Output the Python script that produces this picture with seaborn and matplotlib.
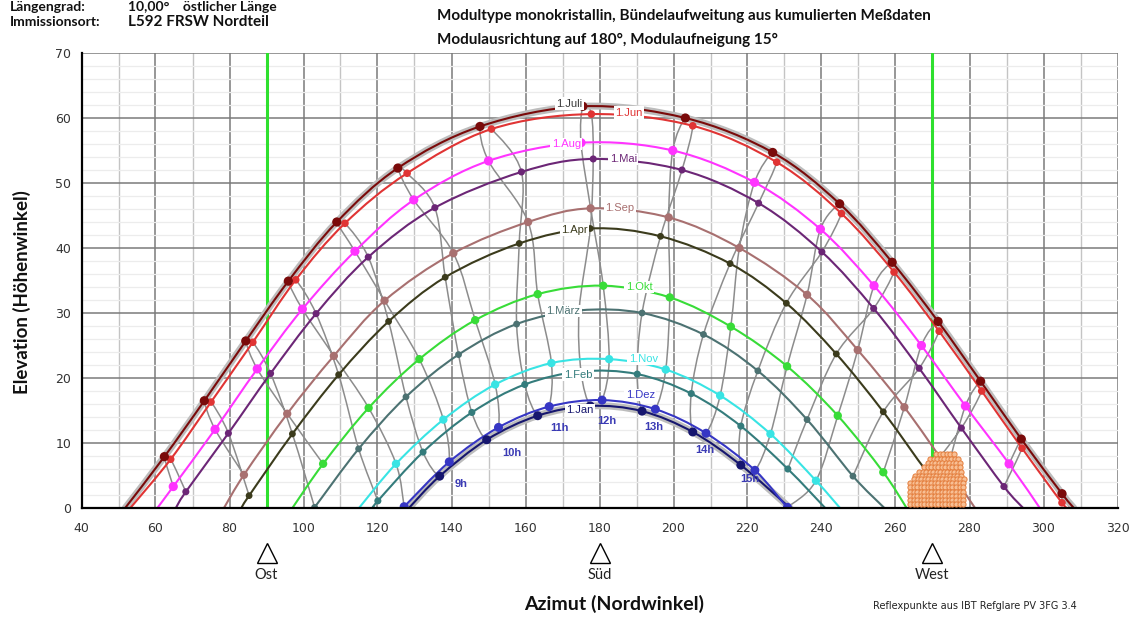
import numpy as np
import pandas as pd
import seaborn as sns
import matplotlib.pyplot as plt
import matplotlib.transforms as mtransforms
from matplotlib.path import Path
from matplotlib.patches import PathPatch

# Tageskurven (1. des Monats), Punkte = volle Stunden
months = ["1.Jan", "1.Feb", "1.März", "1.Apr", "1.Mai", "1.Jun",
          "1.Juli", "1.Aug", "1.Sep", "1.Okt", "1.Nov", "1.Dez"]

# Azimut bei Sonnenauf- und -untergang (Elevation 0)
rise_az = [128.5, 118.8, 102.6, 83.2, 65.5, 53.2, 51.8, 60.5, 78.5, 97.0, 115.0, 126.8]
set_az = [231.5, 241.0, 257.0, 276.8, 294.5, 306.8, 308.2, 299.0, 281.5, 263.0, 245.0, 232.8]

jan_h = [9, 10, 11, 12, 13, 14, 15]
jan_az = [136.8, 149.5, 163.3, 177.5, 191.5, 205.2, 218.2]
jan_el = [4.9, 10.5, 14.2, 15.7, 14.9, 11.7, 6.6]

feb_h = [8, 9, 10, 11, 12, 13, 14, 15, 16]
feb_az = [120.1, 132.3, 145.5, 159.8, 175.0, 190.2, 204.8, 218.2, 230.9]
feb_el = [1.1, 8.6, 14.7, 19.0, 21.0, 20.6, 17.6, 12.6, 6.0]

mar_h = [7, 8, 9, 10, 11, 12, 13, 14, 15, 16, 17]
mar_az = [103.0, 114.9, 127.7, 141.9, 157.6, 174.5, 191.5, 208.1, 222.8, 236.1, 248.5]
mar_el = [0.1, 9.1, 17.1, 23.6, 28.3, 30.4, 30.0, 26.7, 21.1, 13.6, 4.9]

apr_h = [6, 7, 8, 9, 10, 11, 12, 13, 14, 15, 16, 17, 18]
apr_az = [85.3, 97.0, 109.5, 123.0, 138.3, 158.3, 177.5, 196.5, 215.3, 230.5, 244.0, 256.7, 268.7]
apr_el = [1.9, 11.4, 20.5, 28.7, 35.5, 40.7, 43.0, 41.8, 37.6, 31.5, 23.7, 14.8, 5.4]

mai_h = [5, 6, 7, 8, 9, 10, 11, 12, 13, 14, 15, 16, 17, 18, 19]
mai_az = [68.2, 79.7, 91.1, 103.4, 117.5, 135.5, 158.9, 178.3, 202.3, 223.0, 240.1, 254.1, 266.4, 277.8, 289.3]
mai_el = [2.5, 11.5, 20.7, 29.9, 38.6, 46.2, 51.7, 53.7, 52.0, 46.9, 39.4, 30.7, 21.5, 12.3, 3.3]

jun_h = [5, 6, 7, 8, 9, 10, 11, 12, 13, 14, 15, 16, 17, 18, 19, 20]
jun_az = [64.1, 75.0, 86.3, 97.9, 111.2, 128.0, 150.8, 177.8, 205.2, 227.9, 245.4, 259.6, 271.8, 283.3, 294.2, 305.0]
jun_el = [7.5, 16.3, 25.5, 35.1, 43.8, 51.5, 58.3, 60.6, 58.8, 53.2, 45.3, 36.3, 27.2, 18.0, 9.2, 0.8]

jul_h = [5, 6, 7, 8, 9, 10, 11, 12, 13, 14, 15, 16, 17, 18, 19, 20]
jul_az = [62.4, 73.2, 84.4, 95.9, 109.0, 125.5, 147.7, 175.5, 203.2, 226.8, 244.9, 259.1, 271.5, 283.0, 294.0, 305.0]
jul_el = [7.9, 16.5, 25.7, 34.9, 44.0, 52.3, 58.7, 61.8, 60.0, 54.7, 46.8, 37.8, 28.7, 19.5, 10.6, 2.2]

aug_h = [5, 6, 7, 8, 9, 10, 11, 12, 13, 14, 15, 16, 17, 18, 19]
aug_az = [64.8, 76.1, 87.5, 99.7, 113.9, 129.8, 150.0, 175.0, 199.8, 221.9, 239.7, 254.2, 267.0, 278.9, 290.7]
aug_el = [3.3, 12.1, 21.4, 30.6, 39.5, 47.4, 53.4, 56.2, 55.0, 50.1, 42.9, 34.2, 25.0, 15.7, 6.8]

sep_h = [6, 7, 8, 9, 10, 11, 12, 13, 14, 15, 16, 17, 18]
sep_az = [83.9, 95.6, 108.2, 121.9, 140.5, 160.7, 177.6, 198.7, 217.8, 236.1, 249.8, 262.4, 274.1]
sep_el = [5.1, 14.5, 23.4, 31.9, 39.2, 44.0, 46.1, 44.7, 40.0, 32.8, 24.3, 15.5, 6.1]

okt_h = [7, 8, 9, 10, 11, 12, 13, 14, 15, 16, 17]
okt_az = [105.3, 117.6, 131.3, 146.4, 163.3, 181.0, 199.0, 215.5, 230.7, 244.4, 256.7]
okt_el = [6.8, 15.4, 22.9, 28.9, 32.9, 34.2, 32.4, 27.9, 21.8, 14.2, 5.5]

nov_h = [8, 9, 10, 11, 12, 13, 14, 15, 16]
nov_az = [125.0, 137.8, 151.8, 167.0, 182.6, 197.9, 212.6, 226.2, 238.5]
nov_el = [6.8, 13.6, 19.0, 22.3, 22.9, 21.3, 17.3, 11.4, 4.2]

dez_h = [8, 9, 10, 11, 12, 13, 14, 15, 16]
dez_az = [127.2, 139.4, 152.7, 166.4, 180.7, 195.1, 208.8, 222.0, 230.8]
dez_el = [0.2, 7.1, 12.4, 15.6, 16.6, 15.2, 11.5, 5.8, 0.1]

curve_h = [jan_h, feb_h, mar_h, apr_h, mai_h, jun_h, jul_h, aug_h, sep_h, okt_h, nov_h, dez_h]
curve_az = [jan_az, feb_az, mar_az, apr_az, mai_az, jun_az, jul_az, aug_az, sep_az, okt_az, nov_az, dez_az]
curve_el = [jan_el, feb_el, mar_el, apr_el, mai_el, jun_el, jul_el, aug_el, sep_el, okt_el, nov_el, dez_el]

# Beschriftung der Kurven (Azimut, Elevation)
label_az = [174.8, 174.2, 170.2, 173.2, 186.4, 188.0, 171.8, 171.0, 185.5, 190.7, 191.8, 191.0]
label_el = [15.1, 20.5, 30.3, 42.8, 53.7, 60.8, 62.2, 56.0, 46.2, 34.0, 22.9, 17.4]

hour_text = ["9h", "10h", "11h", "12h", "13h", "14h", "15h"]
hour_text_az = [142.7, 156.2, 169.1, 182.1, 194.7, 208.4, 220.6]
hour_text_el = [3.7, 8.5, 12.3, 13.4, 12.5, 8.9, 4.5]

# Reflexpunkte (Zeilen: Elevation, Azimut von/bis)
refl_el = [8.3, 7.6, 7.0, 6.3, 5.6, 5.0, 4.4, 3.8, 3.2, 2.5, 1.9, 1.2, 0.6]
refl_lo = [271.0, 269.4, 268.8, 267.8, 266.4, 265.3, 265.1, 264.0, 264.0, 264.0, 264.0, 264.0, 264.0]
refl_hi = [275.8, 277.2, 277.5, 278.0, 278.3, 278.5, 278.5, 278.8, 278.8, 278.8, 278.8, 278.8, 278.8]

line_colors = ["#16166e", "#347c7c", "#4c7272", "#3b3b1c", "#6c2676", "#e03434",
               "#7a0a0a", "#ff34ff", "#a87070", "#38dc38", "#38e4e4", "#3636c4"]
dot_sizes = [42, 26, 24, 24, 26, 30, 44, 44, 36, 36, 36, 42]


def smooth_path(xs, ys, closed=False):
    p = np.column_stack([xs, ys]).astype(float)
    n = len(p)
    if closed:
        ext = np.vstack([p[-1], p, p[0], p[1]])
        segs = n
    else:
        ext = np.vstack([p[0], p, p[-1]])
        segs = n - 1
    verts = [ext[1]]
    codes = [Path.MOVETO]
    for i in range(segs):
        p0, p1, p2, p3 = ext[i], ext[i + 1], ext[i + 2], ext[i + 3]
        verts += [p1 + (p2 - p0) / 6.0, p2 - (p3 - p1) / 6.0, p2]
        codes += [Path.CURVE4] * 3
    return Path(verts, codes)


sns.set_style("white")
plt.rcParams['font.family'] = ['DejaVu Sans']

fig = plt.figure(figsize=(11.36, 6.18), dpi=100)
ax = fig.add_axes([81.5 / 1136, 1 - 508 / 618, 1036 / 1136, 455 / 618])
ax.set_xlim(40, 320)
ax.set_ylim(0, 70)

# Gitter
ax.set_xticks(range(40, 321, 20))
ax.set_xticks(range(50, 320, 20), minor=True)
ax.set_yticks(range(0, 71, 10))
ax.set_yticks([v for v in range(2, 70, 2) if v % 10], minor=True)
ax.xaxis.grid(True, which='major', color='#7a7a7a', lw=1.1, zorder=0)
ax.yaxis.grid(True, which='major', color='#7a7a7a', lw=1.1, zorder=0)
ax.xaxis.grid(True, which='minor', color='#c4c4c4', lw=1.0, zorder=0)
ax.yaxis.grid(True, which='minor', color='#ececec', lw=0.9, zorder=0)
ax.set_axisbelow(True)
ax.tick_params(which='minor', length=0)
ax.tick_params(which='major', direction='out', length=4, width=1, color='#333333',
               labelsize=9, labelcolor='#333333')
ax.tick_params(axis='x', pad=6)
for s in ['top', 'right']:
    ax.spines[s].set_visible(False)
for s in ['left', 'bottom']:
    ax.spines[s].set_color('black')
    ax.spines[s].set_linewidth(1.6)
    ax.spines[s].set_zorder(6)

# Ost / West Linien
for a in [90, 270]:
    ax.axvline(a, color='#2ee02e', lw=2.2, zorder=1)

# Stundenlinien (gleiche Uhrzeit ueber das Jahr)
rows = []
for m, hs, azs, els in zip(months, curve_h, curve_az, curve_el):
    for h, a, e in zip(hs, azs, els):
        rows.append({'Monat': m, 'Stunde': h, 'az': a, 'el': e})
dots = pd.DataFrame(rows)
dots['mi'] = dots['Monat'].map({m: i for i, m in enumerate(months)})

for h in sorted(dots['Stunde'].unique()):
    sub = dots[dots['Stunde'] == h].set_index('mi')
    have = set(sub.index)
    if len(have) == 12:
        order = list(range(12))
        closed = True
    else:
        start = [i for i in range(12) if i in have and (i - 1) % 12 not in have][0]
        order = [(start + k) % 12 for k in range(12) if (start + k) % 12 in have]
        closed = False
    path = smooth_path(sub.loc[order, 'az'], sub.loc[order, 'el'], closed=closed)
    ax.add_patch(PathPatch(path, fill=False, edgecolor='#8c8c8c', lw=1.1, zorder=2))

# Tageskurven
for i in range(12):
    xs = [rise_az[i]] + curve_az[i] + [set_az[i]]
    ys = [0.0] + curve_el[i] + [0.0]
    path = smooth_path(xs, ys)
    if months[i] in ("1.Juli", "1.Jan"):
        ax.add_patch(PathPatch(path, fill=False, edgecolor='#bdbdbd', lw=5.0, zorder=3,
                               capstyle='round'))
    ax.add_patch(PathPatch(path, fill=False, edgecolor=line_colors[i], lw=1.5, zorder=4))

# Stundenpunkte
sns.scatterplot(data=dots, x='az', y='el', hue='Monat', palette=dict(zip(months, line_colors)),
                size='Monat', sizes=dict(zip(months, dot_sizes)), edgecolor='none',
                legend=False, ax=ax, zorder=5)

# Reflexpunkte
refl_az, refl_y = [], []
for e, lo, hi in zip(refl_el, refl_lo, refl_hi):
    for a in np.arange(lo, hi + 0.01, 0.95):
        refl_az.append(a)
        refl_y.append(e)
ax.scatter(refl_az, refl_y, s=14, facecolor='#f8bf94', edgecolor='#e47d3c', lw=0.7, zorder=7)

# Kurvenbeschriftung
for i in range(12):
    ax.text(label_az[i], label_el[i], months[i], color=line_colors[i] if i != 6 else '#3a3a3a',
            fontsize=8, family=['Liberation Sans', 'DejaVu Sans'], ha='center', va='center',
            zorder=8, bbox=dict(boxstyle='square,pad=0.12', fc='white', ec='none'))
for t, a, e in zip(hour_text, hour_text_az, hour_text_el):
    ax.text(a, e, t, color='#3a3ab4', fontsize=8, fontweight='bold',
            family=['Liberation Sans', 'DejaVu Sans'], ha='center', va='center', zorder=8)

ax.set_xlabel('')
ax.set_ylabel('')

# Himmelsrichtungen unter der Achse
trans = mtransforms.blended_transform_factory(ax.transData, ax.transAxes)
for a, name in [(90, 'Ost'), (180, 'Süd'), (270, 'West')]:
    ax.plot([a], [-0.099], marker='^', markersize=15, mfc='white', mec='black', mew=1.0,
            transform=trans, clip_on=False)
    ax.text(a, -0.148, name, transform=trans, ha='center', va='center', fontsize=10.5,
            family=['Lato', 'DejaVu Sans'], color='#222222')

fig.text(614 / 1136, 1 - 604 / 618, 'Azimut (Nordwinkel)', ha='center', va='center',
         fontsize=14, fontweight='bold', family=['Lato', 'DejaVu Sans'], color='#111111')
fig.text(22 / 1136, 1 - 292 / 618, 'Elevation (Höhenwinkel)', ha='center', va='center',
         rotation=90, fontsize=13.5, fontweight='bold', family=['Lato', 'DejaVu Sans'],
         color='#111111')

hdr = dict(fontweight='bold', family=['Lato', 'DejaVu Sans'], color='#111111',
           va='center', ha='left')
fig.text(10 / 1136, 1 - 7 / 618, 'Längengrad:', fontsize=10, **hdr)
fig.text(128 / 1136, 1 - 7 / 618, '10,00°    östlicher Länge', fontsize=10, **hdr)
fig.text(10 / 1136, 1 - 22 / 618, 'Immissionsort:', fontsize=10, **hdr)
fig.text(128 / 1136, 1 - 22 / 618, 'L592 FRSW Nordteil', fontsize=11, **hdr)
fig.text(437 / 1136, 1 - 16 / 618,
         'Modultype monokristallin, Bündelaufweitung aus kumulierten Meßdaten', fontsize=11, **hdr)
fig.text(437 / 1136, 1 - 40 / 618, 'Modulausrichtung auf 180°, Modulaufneigung 15°',
         fontsize=11, **hdr)
fig.text(873 / 1136, 1 - 606 / 618, 'Reflexpunkte aus IBT Refglare PV 3FG 3.4',
         fontsize=7, family=['Liberation Sans Narrow', 'DejaVu Sans'], color='#222222',
         va='center', ha='left')

fig.savefig('out.png', dpi=100)
